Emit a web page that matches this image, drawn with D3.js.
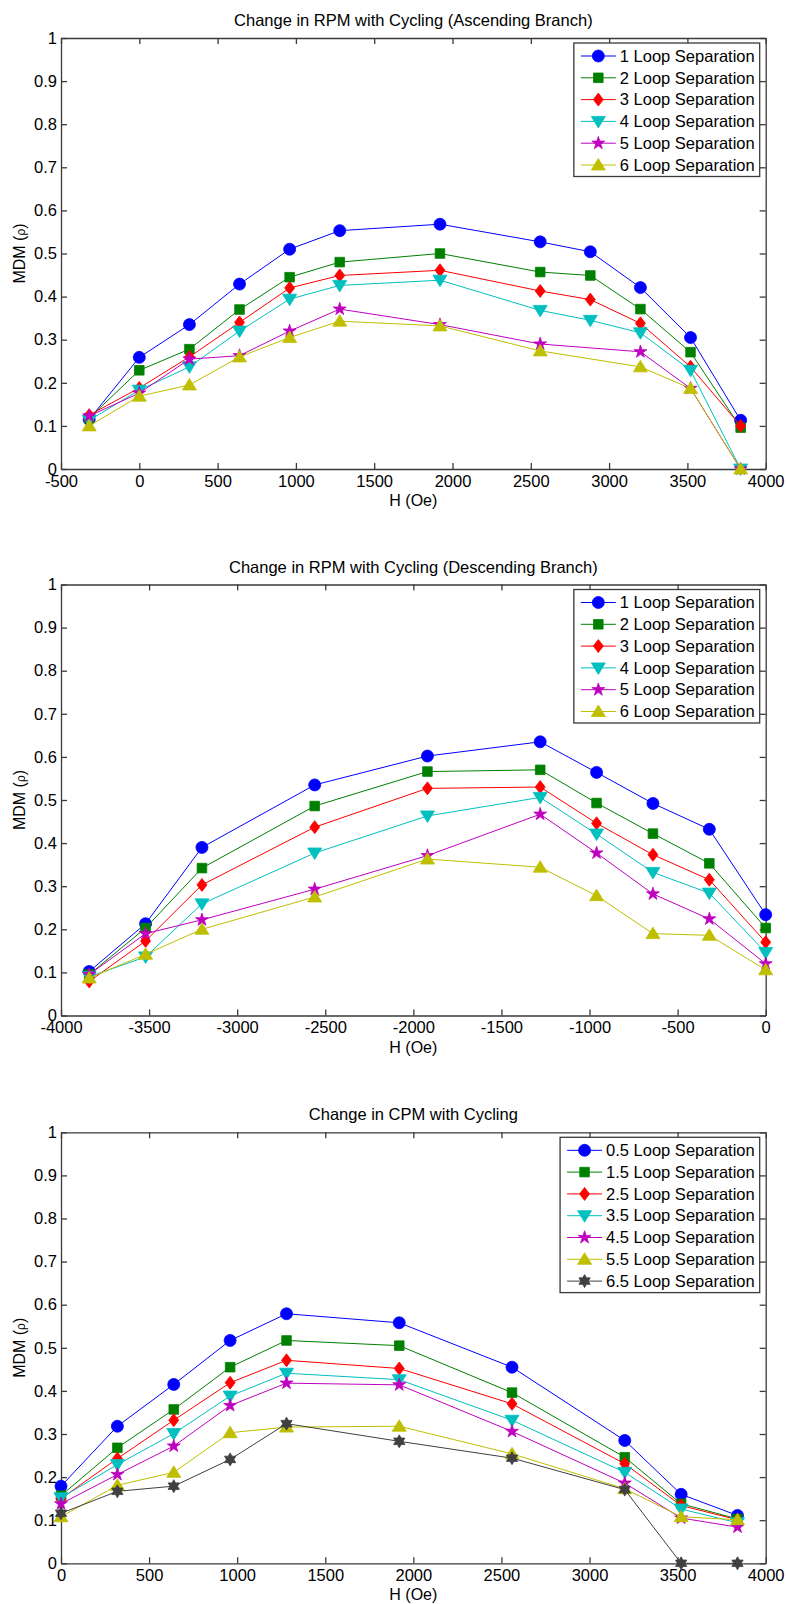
<!DOCTYPE html>
<html>
<head>
<meta charset="utf-8">
<script src="https://cdn.jsdelivr.net/npm/d3@7"></script>
<style>
  body { margin: 0; background: #fff; }
  text { font-family: "Liberation Sans", Arial, sans-serif; }
</style>
</head>
<body>
<svg id="chart" width="787" height="1604"></svg>
<script>
// ---- data ----
const mdmTicks = [0, 0.1, 0.2, 0.3, 0.4, 0.5, 0.6, 0.7, 0.8, 0.9, 1]

const ascTitle = 'Change in RPM with Cycling (Ascending Branch)'
const ascTicks = [-500, 0, 500, 1000, 1500, 2000, 2500, 3000, 3500, 4000]
const ascH = [-320, 0, 320, 640, 960, 1280, 1920, 2560, 2880, 3200, 3520, 3840]
const ascLabels = ['1 Loop Separation', '2 Loop Separation', '3 Loop Separation',
	'4 Loop Separation', '5 Loop Separation', '6 Loop Separation']
const ascMDM = [
	[0.115, 0.259, 0.335, 0.429, 0.510, 0.553, 0.568, 0.527, 0.504, 0.421, 0.305, 0.113],
	[0.118, 0.229, 0.278, 0.370, 0.445, 0.480, 0.500, 0.457, 0.449, 0.371, 0.271, 0.096],
	[0.125, 0.188, 0.260, 0.340, 0.420, 0.449, 0.461, 0.413, 0.393, 0.338, 0.237, 0.100],
	[0.113, 0.183, 0.237, 0.320, 0.394, 0.426, 0.438, 0.368, 0.345, 0.316, 0.229, 0.000],
	[0.123, 0.176, 0.255, 0.263, 0.320, 0.371, 0.335, 0.290, null, 0.272, 0.187, 0.000],
	[0.100, 0.169, 0.195, 0.260, 0.305, 0.343, 0.332, 0.274, null, 0.237, 0.187, 0.000]
]

const descTitle = 'Change in RPM with Cycling (Descending Branch)'
const descTicks = [-4000, -3500, -3000, -2500, -2000, -1500, -1000, -500, 0]
const descH = [-3840, -3520, -3200, -2560, -1920, -1280, -960, -640, -320, 0]
const descLabels = ascLabels
const descMDM = [
	[0.102, 0.213, 0.390, 0.535, 0.602, 0.635, 0.564, 0.492, 0.432, 0.234],
	[0.095, 0.203, 0.342, 0.486, 0.566, 0.570, 0.493, 0.422, 0.353, 0.203],
	[0.079, 0.173, 0.303, 0.437, 0.527, 0.530, 0.446, 0.373, 0.315, 0.170],
	[0.090, 0.136, 0.259, 0.377, 0.463, 0.506, 0.421, 0.332, 0.284, 0.146],
	[0.095, 0.190, 0.222, 0.293, 0.371, 0.467, 0.377, 0.282, 0.224, 0.120],
	[0.087, 0.142, 0.200, 0.275, 0.363, 0.344, 0.278, 0.190, 0.186, 0.106]
]

const cpmTitle = 'Change in CPM with Cycling'
const cpmTicks = [0, 500, 1000, 1500, 2000, 2500, 3000, 3500, 4000]
const cpmH = [0, 320, 640, 960, 1280, 1920, 2560, 3200, 3520, 3840]
const cpmLabels = ['0.5 Loop Separation', '1.5 Loop Separation', '2.5 Loop Separation',
	'3.5 Loop Separation', '4.5 Loop Separation', '5.5 Loop Separation', '6.5 Loop Separation']
const cpmMDM = [
	[0.179, 0.318, 0.415, 0.517, 0.579, 0.558, 0.455, 0.285, 0.160, 0.111],
	[0.157, 0.268, 0.357, 0.455, 0.517, 0.505, 0.396, 0.246, 0.138, 0.103],
	[0.150, 0.243, 0.332, 0.419, 0.471, 0.452, 0.370, 0.231, 0.134, 0.101],
	[0.152, 0.229, 0.301, 0.388, 0.441, 0.426, 0.332, 0.211, 0.126, 0.094],
	[0.138, 0.206, 0.272, 0.366, 0.418, 0.414, 0.306, 0.186, 0.105, 0.084],
	[0.108, 0.181, 0.211, 0.303, 0.316, 0.318, 0.254, 0.173, 0.108, 0.101],
	[0.116, 0.167, 0.179, 0.241, 0.324, 0.283, 0.244, 0.171, 0.000, 0.000]
]

// ---- look ----
const svg = d3.select('#chart')
const colors = ['#0000ff', '#008000', '#ff0000', '#00bfbf', '#bf00bf', '#bfbf00', '#404040']
const shapes = ['circle', 'square', 'diamond', 'tridown', 'star', 'triup', 'hexagram']
const axisColor = '#3a3a3a'
const fontSize = 16.5
const plotLeft = 61
const plotW = 704.7
const plotH = 431

const markerPath = shape => {
	if (shape === 'circle') return d3.symbol(d3.symbolCircle, Math.PI * 36)()
	if (shape === 'square') return d3.symbol(d3.symbolSquare, 92)()
	if (shape === 'star') return d3.symbol(d3.symbolStar, 52)()
	if (shape === 'diamond') return 'M0,-6.5L5,0L0,6.5L-5,0Z'
	if (shape === 'triup') return 'M0,-6.5L7,5L-7,5Z'
	if (shape === 'tridown') return 'M0,6.5L7,-5L-7,-5Z'
	// hexagram: two overlapping triangles
	let r = 6.5, ri = r / Math.sqrt(3), pts = []
	for (let k = 0; k < 12; k++) {
		let rr = k % 2 === 0 ? r : ri
		let a = -Math.PI / 2 + k * Math.PI / 6
		pts.push([rr * Math.cos(a), rr * Math.sin(a)])
	}
	return 'M' + pts.map(p => p[0].toFixed(2) + ',' + p[1].toFixed(2)).join('L') + 'Z'
}

const drawPanel = (top, title, hs, series, labels, xTicks) => {
	const x = d3.scaleLinear()
		.domain([xTicks[0], xTicks[xTicks.length - 1]])
		.range([plotLeft, plotLeft + plotW])
	const y = d3.scaleLinear()
		.domain([0, 1])
		.range([top + plotH, top])
	const bottom = top + plotH
	const right = plotLeft + plotW

	const g = svg.append('g')

	// box axes, ticks pointing inward like matlab
	g.append('g').attr('transform', `translate(0,${bottom})`)
		.call(d3.axisBottom(x).tickValues(xTicks).tickSizeInner(-6).tickSizeOuter(0).tickPadding(6)
			.tickFormat(d => String(d)))
	g.append('g').attr('transform', `translate(0,${top})`)
		.call(d3.axisTop(x).tickValues(xTicks).tickSizeInner(-6).tickSizeOuter(0).tickFormat(''))
	g.append('g').attr('transform', `translate(${plotLeft},0)`)
		.call(d3.axisLeft(y).tickValues(mdmTicks).tickSizeInner(-6).tickSizeOuter(0).tickPadding(4)
			.tickFormat(d => String(+d.toFixed(1))))
	g.append('g').attr('transform', `translate(${right},0)`)
		.call(d3.axisRight(y).tickValues(mdmTicks).tickSizeInner(-6).tickSizeOuter(0).tickFormat(''))

	g.selectAll('.domain, .tick line')
		.attr('stroke', axisColor)
		.attr('stroke-width', 1.3)
	g.selectAll('.tick text')
		.attr('fill', '#000')
		.style('font-size', fontSize + 'px')
		.style('font-family', '"Liberation Sans", Arial, sans-serif')

	// title and axis labels
	g.append('text')
		.attr('x', plotLeft + plotW / 2)
		.attr('y', top - 12)
		.attr('text-anchor', 'middle')
		.style('font-size', fontSize + 'px')
		.text(title)
	g.append('text')
		.attr('x', plotLeft + plotW / 2)
		.attr('y', bottom + 37)
		.attr('text-anchor', 'middle')
		.style('font-size', '16px')
		.text('H (Oe)')
	const yl = g.append('text')
		.attr('transform', `translate(25,${top + plotH / 2}) rotate(-90)`)
		.attr('text-anchor', 'middle')
		.style('font-size', '16px')
	yl.append('tspan').text('MDM (')
	yl.append('tspan').style('font-size', '12px').text('ρ')
	yl.append('tspan').text(')')

	// series lines then markers
	const line = d3.line().x(d => x(d.h)).y(d => y(d.v))
	series.forEach((vals, i) => {
		const pts = hs.map((h, j) => ({ h: h, v: vals[j] })).filter(d => d.v !== null)
		g.append('path')
			.attr('d', line(pts))
			.attr('fill', 'none')
			.attr('stroke', colors[i])
			.attr('stroke-width', 1)
		g.selectAll(null)
			.data(pts)
			.enter()
			.append('path')
			.attr('d', markerPath(shapes[i]))
			.attr('transform', d => `translate(${x(d.h)},${y(d.v)})`)
			.attr('fill', colors[i])
			.attr('stroke', colors[i])
			.attr('stroke-width', 0.8)
	})

	// legend, upper right
	const lg = g.append('g')
	const boxTop = top + 5
	const boxRight = right - 6
	const rowGap = 21.8
	const texts = lg.selectAll('text')
		.data(labels)
		.enter()
		.append('text')
		.attr('y', (d, i) => boxTop + 13 + i * rowGap)
		.attr('dy', '0.35em')
		.style('font-size', fontSize + 'px')
		.text(d => d)
	let maxLen = 0
	texts.each(function () { maxLen = Math.max(maxLen, this.getComputedTextLength()) })
	const textX = boxRight - 5 - maxLen
	texts.attr('x', textX)
	const boxBottom = boxTop + 13 + (labels.length - 1) * rowGap + 11.5
	lg.insert('rect', 'text')
		.attr('x', textX - 46)
		.attr('y', boxTop)
		.attr('width', boxRight - (textX - 46))
		.attr('height', boxBottom - boxTop)
		.attr('fill', '#fff')
		.attr('stroke', axisColor)
		.attr('stroke-width', 1.3)
	labels.forEach((lab, i) => {
		const ly = boxTop + 13 + i * rowGap
		lg.append('line')
			.attr('x1', textX - 39).attr('x2', textX - 4)
			.attr('y1', ly).attr('y2', ly)
			.attr('stroke', colors[i])
			.attr('stroke-width', 1)
		lg.append('path')
			.attr('d', markerPath(shapes[i]))
			.attr('transform', `translate(${textX - 21.5},${ly})`)
			.attr('fill', colors[i])
			.attr('stroke', colors[i])
			.attr('stroke-width', 0.8)
	})
}

drawPanel(38, ascTitle, ascH, ascMDM, ascLabels, ascTicks)
drawPanel(584.5, descTitle, descH, descMDM, descLabels, descTicks)
drawPanel(1132.3, cpmTitle, cpmH, cpmMDM, cpmLabels, cpmTicks)
</script>
</body>
</html>
